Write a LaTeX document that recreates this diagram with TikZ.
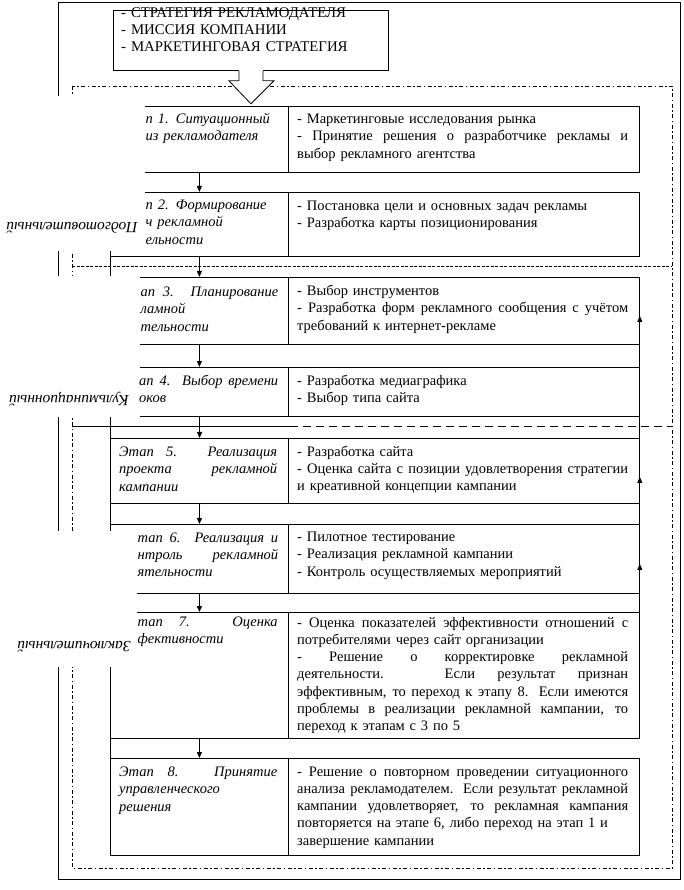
\documentclass[tikz,border=0pt]{standalone}
\usepackage{fontspec}
\setmainfont{Liberation Serif}
\usetikzlibrary{arrows.meta,calc}
\newcommand\jw[2]{{\spaceskip=0pt\xspaceskip=0pt\makebox[#1][s]{#2}}}
\newcommand\jr[1]{\jw{331pt}{#1}}
\tikzset{
  cell/.style={draw, line width=0.8pt, inner sep=0pt, anchor=north west},
  rtxt/.style={font=\fontsize{14.5}{17.3}\selectfont, inner sep=0pt, text width=331pt, align=left, anchor=base west},
  ltxt/.style={font=\fontsize{14.5}{17.3}\selectfont\itshape, inner sep=0pt, text width=#1, align=left, anchor=base west},
  ltxt/.default=159pt,
  conn/.style={-{Triangle[length=6pt,width=5pt]}, line width=0.8pt},
  occl/.style={fill=white, draw=none},
  lbl/.style={font=\fontsize{15.5}{17}\selectfont\itshape, inner sep=0pt, rotate=180},
  dashdot/.style={line width=0.7pt, dash pattern=on 4pt off 2.5pt on 1.5pt off 2.5pt},
  dense/.style={line width=0.7pt, dash pattern=on 3pt off 1.5pt},
  longdash/.style={line width=0.7pt, dash pattern=on 8pt off 5pt},
}
\begin{document}
\begin{tikzpicture}[x=1pt,y=-1pt]
\useasboundingbox (0,0) rectangle (684,890);
% frames
\draw[line width=0.8pt] (58,2) rectangle (680,879);
\draw[dashdot] (72,86) rectangle (672,868);
\draw[dense] (72,266) -- (672,266);
\draw[line width=0.7pt] (72,426) -- (290,426);
\draw[longdash] (290,426) -- (672,426);

% stage cells
\node[cell, minimum width=178pt, minimum height=66pt] (s1l) at (110,106) {};
\node[cell, minimum width=351pt, minimum height=66pt] (s1r) at (288,106) {};
\node[cell, minimum width=178pt, minimum height=64pt] (s2l) at (110,192) {};
\node[cell, minimum width=351pt, minimum height=64pt] (s2r) at (288,192) {};
\node[cell, minimum width=178pt, minimum height=67pt] (s3l) at (110,277) {};
\node[cell, minimum width=351pt, minimum height=67pt] (s3r) at (288,277) {};
\node[cell, minimum width=178pt, minimum height=49pt] (s4l) at (110,367) {};
\node[cell, minimum width=351pt, minimum height=49pt] (s4r) at (288,367) {};
\node[cell, line width=1.2pt, minimum width=178pt, minimum height=65pt] (s5l) at (110,438) {};
\node[cell, minimum width=351pt, minimum height=65pt] (s5r) at (288,438) {};
\node[cell, minimum width=178pt, minimum height=69pt] (s6l) at (110,524) {};
\node[cell, minimum width=351pt, minimum height=69pt] (s6r) at (288,524) {};
\node[cell, minimum width=178pt, minimum height=126pt] (s7l) at (110,612) {};
\node[cell, minimum width=351pt, minimum height=126pt] (s7r) at (288,612) {};
\node[cell, minimum width=178pt, minimum height=97pt] (s8l) at (110,758) {};
\node[cell, minimum width=351pt, minimum height=97pt] (s8r) at (288,758) {};
\draw[line width=0.8pt] (s1l.north west) -- (s8l.south west);

% stage connectors
\draw[conn] (s1l.south) -- (s2l.north);
\draw[conn] (s2l.south) -- (s3l.north);
\draw[conn] (s3l.south) -- (s4l.north);
\draw[conn] (s4l.south) -- (s5l.north);
\draw[conn] (s5l.south) -- (s6l.north);
\draw[conn] (s6l.south) -- (s7l.north);
\draw[conn] (s7l.south) -- (s8l.north);
% feedback
\coordinate (fb1) at ($(s6r.east)+(0,5)$);
\coordinate (fb2) at ($(s5r.east)+(0,6)$);
\coordinate (fb3) at ($(s3r.east)+(0,5)$);
\draw[conn] (s7r.south east) -- (fb1);
\draw[conn] (fb1) -- (fb2);
\draw[conn] (fb2) -- (fb3);

% top box and block arrow
\node[cell, fill=white, minimum width=275pt, minimum height=60pt] (top) at (113,10) {};
\node[font=\fontsize{14.8}{17.2}\selectfont, inner sep=0pt, text width=262pt, align=left, anchor=base west] (toptxt) at (121,17.5) {- СТРАТЕГИЯ РЕКЛАМОДАТЕЛЯ\\ - МИССИЯ КОМПАНИИ\\ - МАРКЕТИНГОВАЯ СТРАТЕГИЯ};
\begin{scope}[shift={(top.south)}]
\fill[white] (-12,-1) -- (12,-1) -- (12,10) -- (23,10) -- (0,33) -- (-22,10) -- (-12,10) -- cycle;
\draw[line width=0.8pt] (-12,0) -- (-12,10) -- (-22,10) -- (0,33) -- (23,10) -- (12,10) -- (12,0);
\end{scope}

% occluding label boxes
\fill[occl] (0,96) rectangle (145,251);
\fill[occl] (0,276) rectangle (140,417);
\fill[occl] (0,531) rectangle (137,667);
\node[lbl] (la) at (72,228) {Подготовительный};
\node[lbl] (lb) at (69,399) {Кульминационный};
\node[lbl] (lc) at (74,647) {Заключительный};

% texts
\node[ltxt=132pt] (t1l) at (145.5,123.5) {п 1. Ситуационный\\ из рекламодателя};
\node[rtxt] (t1r) at (297,123.5) {- Маркетинговые исследования рынка\\ \jr{- Принятие решения о разработчике рекламы и}\\ выбор рекламного агентства};
\node[ltxt=132pt] (t2l) at (145.5,209.5) {п 2. Формирование\\ ч рекламной\\ ельности};
\node[rtxt] (t2r) at (297,210.5) {- Постановка цели и основных задач рекламы\\ - Разработка карты позиционирования};
\node[ltxt=137.5pt] (t3l) at (140.5,296.5) {\jw{137.5pt}{ап 3. Планирование}\\ ламной\\ тельности};
\node[rtxt] (t3r) at (297,295.5) {- Выбор инструментов\\ \jr{- Разработка форм рекламного сообщения с учётом}\\ требований к интернет-рекламе};
\node[ltxt=139pt] (t4l) at (139,385.5) {\jw{139pt}{ап 4. Выбор времени}\\ оков};
\node[rtxt] (t4r) at (297,385) {- Разработка медиаграфика\\ - Выбор типа сайта};
\node[ltxt] (t5l) at (119,456.5) {\jw{158pt}{Этап 5. Реализация}\\ \jw{158pt}{проекта рекламной}\\ кампании};
\node[rtxt] (t5r) at (297,456) {- Разработка сайта\\ \jr{- Оценка сайта с позиции удовлетворения стратегии}\\ и креативной концепции кампании};
\node[ltxt=140.5pt] (t6l) at (137.5,542) {\jw{140.5pt}{тап 6. Реализация и}\\ \jw{140.5pt}{нтроль рекламной}\\ ятельности};
\node[rtxt] (t6r) at (297,541.5) {- Пилотное тестирование\\ - Реализация рекламной кампании\\ - Контроль осуществляемых мероприятий};
\node[ltxt=140.5pt] (t7l) at (137.5,626.5) {\jw{140pt}{тап 7. Оценка}\\ фективности};
\node[rtxt] (t7r) at (297,627) {\jr{- Оценка показателей эффективности отношений с}\\ потребителями через сайт организации\\ \jr{- Решение о корректировке рекламной}\\ \jr{деятельности. Если результат признан}\\ \jr{эффективным, то переход к этапу 8. Если имеются}\\ \jr{проблемы в реализации рекламной кампании, то}\\ переход к этапам с 3 по 5};
\node[ltxt] (t8l) at (119,776.5) {\jw{158pt}{Этап 8. Принятие}\\ управленческого\\ решения};
\node[rtxt] (t8r) at (297,776) {\jr{- Решение о повторном проведении ситуационного}\\ \jr{анализа рекламодателем. Если результат рекламной}\\ \jr{кампании удовлетворяет, то рекламная кампания}\\ повторяется на этапе 6, либо переход на этап 1 и\\ завершение кампании};
\end{tikzpicture}
\end{document}
